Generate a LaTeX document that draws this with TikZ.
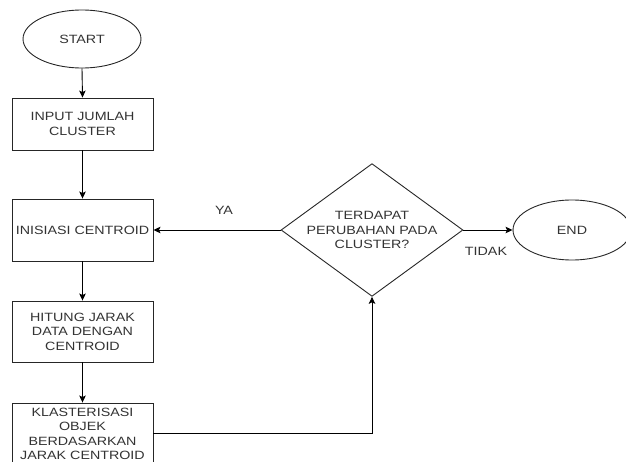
\documentclass[tikz,border=0pt]{standalone}
\usepackage{fontspec}
\setmainfont[FakeStretch=1.19]{Liberation Sans}
\usetikzlibrary{shapes.geometric,arrows.meta}
\begin{document}
\begin{tikzpicture}[x=1pt,y=-1pt,
  every node/.style={font=\fontsize{12}{14.5}\selectfont, text=black!80},
  box/.style={draw=black!85, line width=0.9pt, rectangle, inner sep=0pt, minimum width=141, align=center},
  oval/.style={draw=black!85, line width=0.9pt, ellipse, inner sep=0pt, minimum width=118},
  dia/.style={draw=black!85, line width=0.9pt, diamond, inner sep=0pt, shape aspect=1.37, minimum width=178, minimum height=130, align=center},
  conn/.style={draw=black, line width=0.9pt, -{Stealth[length=7pt,width=6.5pt,inset=1.5pt]}},
  lbl/.style={inner sep=0pt}]
\useasboundingbox (0,0) rectangle (626,462);
\begin{scope}
\clip (0,0) rectangle (626,462);
\node[oval, minimum height=58] (start) at (82,39) {START};
\node[box, minimum height=52] (input) at (82.5,124) {INPUT JUMLAH\\CLUSTER};
\node[box, minimum height=62] (init) at (82.5,230) {INISIASI CENTROID};
\node[box, minimum height=61] (hitung) at (82.5,331.5) {HITUNG JARAK\\DATA DENGAN\\CENTROID};
\node[box, minimum height=62] (klaster) at (82.5,434) {KLASTERISASI\\OBJEK\\BERDASARKAN\\JARAK CENTROID};
\node[dia] (dec) at (372,230) {TERDAPAT\\PERUBAHAN PADA\\CLUSTER?};
\node[oval, minimum height=60] (end) at (572,230) {END};
\coordinate (corner) at (372,433);
\draw[conn] (start.south) -- (input.north);
\draw[conn] (input.south) -- (init.north);
\draw[conn] (init.south) -- (hitung.north);
\draw[conn] (hitung.south) -- (klaster.north);
\draw[conn] (dec.west) -- (init.east);
\draw[conn] (dec.east) -- (end.west);
\draw[conn] (klaster.east |- corner) -- (corner) -- (dec.south);
\node[lbl] (ya) at (224,210) {YA};
\node[lbl] (tidak) at (486,251) {TIDAK};
\end{scope}
\end{tikzpicture}
\end{document}
